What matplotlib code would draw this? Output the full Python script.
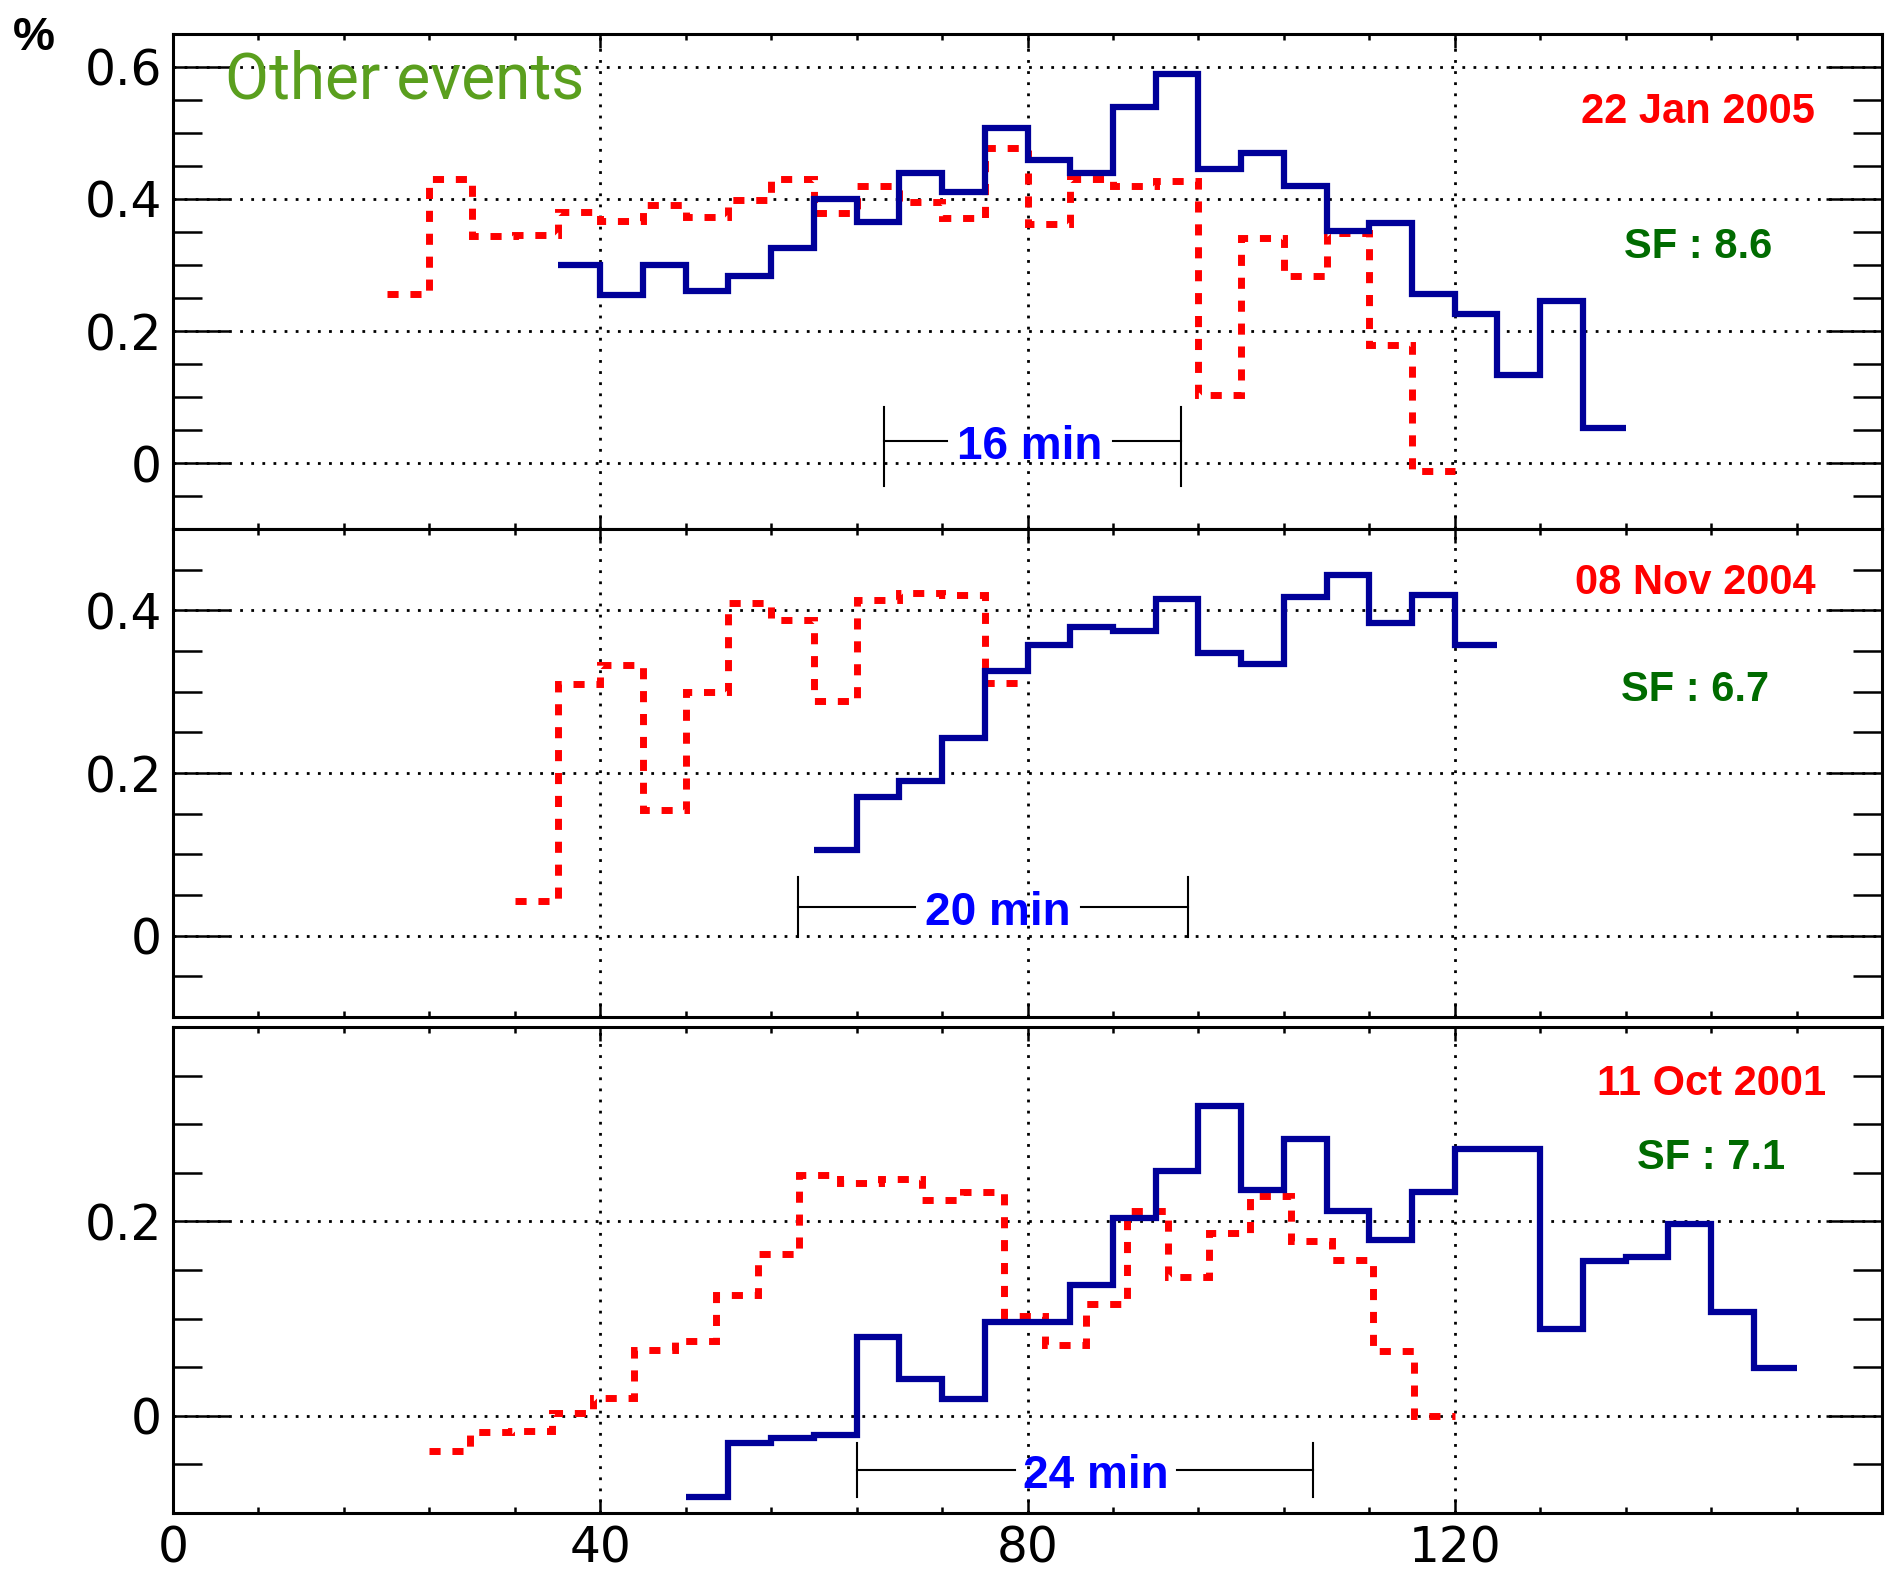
import numpy as np
import matplotlib
matplotlib.use('Agg')
import matplotlib.pyplot as plt
from matplotlib import font_manager
from matplotlib.ticker import FixedLocator, MultipleLocator, FuncFormatter

# ---- histogram contents (%); bins are 4 wide unless noted
jan05_blue_start = 36
jan05_blue = [0.300, 0.255, 0.300, 0.260, 0.284, 0.326, 0.400, 0.365, 0.440, 0.410,
              0.507, 0.459, 0.439, 0.539, 0.589, 0.446, 0.469, 0.419, 0.352, 0.364,
              0.256, 0.226, 0.133, 0.246, 0.053]
jan05_red_start = 20
jan05_red = [0.256, 0.431, 0.344, 0.346, 0.380, 0.366, 0.391, 0.373, 0.398, 0.431,
             0.379, 0.420, 0.395, 0.371, 0.478, 0.362, 0.431, 0.420, 0.427, 0.103,
             0.341, 0.284, 0.349, 0.179, -0.012]

nov04_blue_start = 60
nov04_blue = [0.105, 0.171, 0.190, 0.243, 0.325, 0.357, 0.380, 0.375, 0.414, 0.348,
              0.334, 0.417, 0.443, 0.384, 0.419, 0.357]
nov04_red_start = 32
nov04_red = [0.043, 0.310, 0.333, 0.154, 0.300, 0.409, 0.388, 0.288, 0.413, 0.421,
             0.419, 0.311]

oct01_blue_start = 48
oct01_blue = [-0.084, -0.028, -0.023, -0.020, 0.081, 0.038, 0.017, 0.096, 0.096, 0.135,
              0.203, 0.252, 0.319, 0.232, 0.285, 0.211, 0.181, 0.230, 0.274, 0.274,
              0.089, 0.159, 0.163, 0.197, 0.107, 0.049]
oct01_red_start = 24
oct01_red_width = 3.84
oct01_red = [-0.036, -0.017, -0.016, 0.003, 0.018, 0.068, 0.077, 0.124, 0.166, 0.248,
             0.240, 0.244, 0.222, 0.230, 0.103, 0.073, 0.115, 0.211, 0.143, 0.188,
             0.226, 0.180, 0.160, 0.067, 0.000]

dates = ['22 Jan 2005', '08 Nov 2004', '11 Oct 2001']
sf_labels = ['SF : 8.6', 'SF : 6.7', 'SF : 7.1']
delay_labels = ['16 min', '20 min', '24 min']

BLUE = '#000099'
RED = '#ff0000'
SF_GREEN = '#006b00'

# condensed face for the title if the system has it
installed = {f.name for f in font_manager.fontManager.ttflist}
if 'Liberation Sans Narrow' in installed:
    title_font, title_size = 'Liberation Sans Narrow', 53
else:
    title_font, title_size = 'Roboto', 46


def edges(start, n, width=4.0):
    return start + width * np.arange(n + 1)


def setup_axes(ax, ylim, yticks, show_x):
    ax.set_xlim(0, 160)
    ax.set_ylim(*ylim)
    ax.xaxis.set_major_locator(FixedLocator([0, 40, 80, 120]))
    ax.xaxis.set_minor_locator(MultipleLocator(8))
    ax.yaxis.set_major_locator(FixedLocator(yticks))
    ax.yaxis.set_minor_locator(MultipleLocator(0.05))
    ax.yaxis.set_major_formatter(FuncFormatter(lambda v, p: '0' if abs(v) < 1e-9 else f'{v:g}'))
    ax.grid(True, which='major', color='black', linestyle=(0, (1, 3)), linewidth=2)
    ax.set_axisbelow(True)
    ax.tick_params(axis='y', which='major', direction='in', length=40, width=1.8,
                   left=True, right=True, labelsize=35, pad=8)
    ax.tick_params(axis='y', which='minor', direction='in', length=21, width=1.8,
                   left=True, right=True)
    ax.tick_params(axis='x', which='major', direction='in', length=10, width=1.8,
                   top=True, bottom=True, labelsize=35, pad=8, labelbottom=show_x)
    ax.tick_params(axis='x', which='minor', direction='in', length=4.5, width=1.8,
                   top=True, bottom=True)
    for s in ax.spines.values():
        s.set_linewidth(2.2)


def label(ax, x, y, text, color, size):
    # centred on the cap height rather than the full text box
    ax.annotate(text, (x, y), xytext=(0, -4), textcoords='offset points',
                color=color, fontsize=size, fontweight='bold',
                ha='center', va='center', family='Liberation Sans')


def bracket(ax, x1, x2, y, ylo, yhi, gap_l, gap_r, text):
    ax.plot([x1, x1], [ylo, yhi], color='black', lw=1.5)
    ax.plot([x2, x2], [ylo, yhi], color='black', lw=1.5)
    ax.plot([x1, gap_l], [y, y], color='black', lw=1.5)
    ax.plot([gap_r, x2], [y, y], color='black', lw=1.5)
    label(ax, (gap_l + gap_r) / 2, y, text, '#0000ff', 33)


fig = plt.figure(figsize=(18.85, 15.71), dpi=100)
left, width = 0.0918, 0.9066
ax1 = fig.add_axes([left, 0.66327, width, 0.97836 - 0.66327])
ax2 = fig.add_axes([left, 0.35264, width, 0.66327 - 0.35264])
ax3 = fig.add_axes([left, 0.03692, width, 0.34628 - 0.03692])

setup_axes(ax1, (-0.1, 0.65), [0, 0.2, 0.4, 0.6], False)
setup_axes(ax2, (-0.1, 0.5), [0, 0.2, 0.4], False)
setup_axes(ax3, (-0.1, 0.4), [0, 0.2], True)

red_style = dict(color=RED, linewidth=5, linestyle=(0, (1.6, 1.7)), baseline=None)
blue_style = dict(color=BLUE, linewidth=4.5, baseline=None)

ax1.stairs(jan05_red, edges(jan05_red_start, len(jan05_red)), **red_style)
ax1.stairs(jan05_blue, edges(jan05_blue_start, len(jan05_blue)), **blue_style)
ax2.stairs(nov04_red, edges(nov04_red_start, len(nov04_red)), **red_style)
ax2.stairs(nov04_blue, edges(nov04_blue_start, len(nov04_blue)), **blue_style)
ax3.stairs(oct01_red, edges(oct01_red_start, len(oct01_red), oct01_red_width), **red_style)
ax3.stairs(oct01_blue, edges(oct01_blue_start, len(oct01_blue)), **blue_style)

# time-delay brackets
bracket(ax1, 66.6, 94.4, 0.033, -0.035, 0.085, 72.5, 88.0, delay_labels[0])
bracket(ax2, 58.5, 95.0, 0.035, -0.002, 0.072, 69.5, 85.0, delay_labels[1])
bracket(ax3, 64.0, 106.7, -0.056, -0.084, -0.028, 78.8, 94.0, delay_labels[2])

# event labels
for ax, d, sf, pos in zip([ax1, ax2, ax3], dates, sf_labels,
                          [(142.8, 0.540, 0.336), (142.5, 0.440, 0.309), (144.0, 0.347, 0.271)]):
    label(ax, pos[0], pos[1], d, RED, 30)
    label(ax, pos[0], pos[2], sf, SF_GREEN, 30)

ax1.text(4.9, 0.553, 'Other events', color='#5a9f1e', fontsize=title_size,
         ha='left', va='baseline', family=title_font)
fig.text(0.018, 0.976, '%', fontsize=34, fontweight='bold', ha='center', va='center',
         family='Liberation Sans')

fig.savefig('out.png', dpi=100)
